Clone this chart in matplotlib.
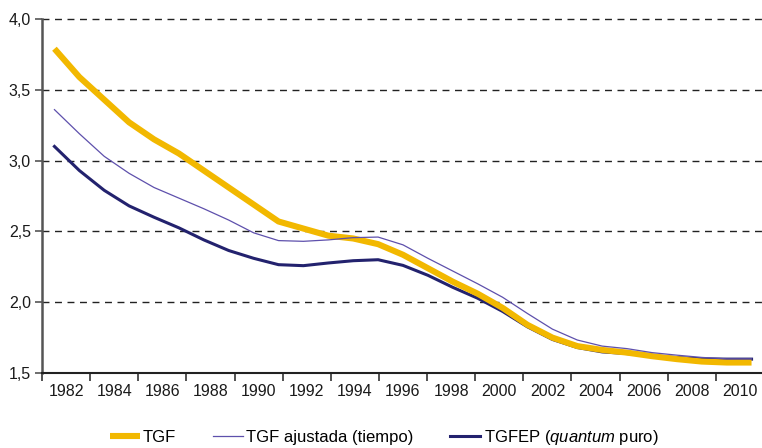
import matplotlib
matplotlib.use("Agg")
import matplotlib.pyplot as plt
import numpy as np

# series, one value per year 1982-2010
years = list(range(1982, 2011))
tgf = [3.79, 3.59, 3.43, 3.27, 3.15, 3.05, 2.93, 2.81, 2.69, 2.57,
       2.52, 2.47, 2.45, 2.41, 2.335, 2.24, 2.145, 2.06, 1.96, 1.84,
       1.75, 1.69, 1.663, 1.644, 1.619, 1.598, 1.581, 1.574, 1.574]
tgf_ajustada = [3.36, 3.19, 3.03, 2.91, 2.81, 2.735, 2.66, 2.58, 2.49, 2.435,
                2.43, 2.44, 2.456, 2.46, 2.405, 2.31, 2.22, 2.13, 2.035, 1.92,
                1.81, 1.733, 1.69, 1.672, 1.644, 1.626, 1.61, 1.60, 1.60]
tgfep = [3.10, 2.93, 2.79, 2.68, 2.60, 2.525, 2.44, 2.365, 2.31, 2.265,
         2.258, 2.277, 2.293, 2.30, 2.26, 2.19, 2.105, 2.028, 1.935, 1.826,
         1.737, 1.68, 1.649, 1.637, 1.621, 1.609, 1.60, 1.598, 1.598]
label_years = list(range(1982, 2011, 2))
y_ticks = [1.5, 2.0, 2.5, 3.0, 3.5, 4.0]

plt.rcParams['font.family'] = ['Liberation Sans', 'DejaVu Sans']
plt.rcParams['mathtext.fontset'] = 'custom'
plt.rcParams['mathtext.it'] = 'Liberation Sans:italic'
plt.rcParams['mathtext.rm'] = 'Liberation Sans'

fig = plt.figure(figsize=(7.62, 4.48), dpi=100)
# axis runs a bit past the right edge, like the cropped original
ax = fig.add_axes([42 / 762, 75 / 448, 722 / 762, 354 / 448])

ax.plot(years, tgf, color='#F2B800', lw=4.4, solid_capstyle='butt', label='TGF', zorder=3)
ax.plot(years, tgf_ajustada, color='#5E50AC', lw=0.9, label='TGF ajustada (tiempo)', zorder=4)
ax.plot(years, tgfep, color='#23226E', lw=2.2, label='TGFEP ($\\it{quantum}$ puro)', zorder=2)

ax.set_xlim(years[0] - 0.5, years[-1] + 0.5)
ax.set_ylim(1.5, 4.0)

# x axis: 30 slots, tick every 2 slots, labels in between
slot = (years[-1] - years[0] + 1) / 30
x0 = years[0] - 0.5
ax.set_xticks([x0 + k * slot for k in range(0, 31, 2)])
ax.set_xticklabels([])
ax.set_xticks([x0 + (k + 1) * slot for k in range(0, 30, 2)], minor=True)
ax.set_xticklabels([str(y) for y in label_years], minor=True)
ax.tick_params(axis='x', which='major', direction='out', length=6, width=1.2, color='#333333')
ax.tick_params(axis='x', which='minor', length=0, pad=8, labelsize=11.5, labelcolor='#1a1a1a')

ax.set_yticks(y_ticks)
ax.set_yticklabels([f"{v:.1f}".replace('.', ',') for v in y_ticks])
ax.tick_params(axis='y', direction='out', length=5, width=1.2, color='#555555',
               labelsize=11.5, labelcolor='#1a1a1a', pad=3)

for v in y_ticks[1:]:
    ax.axhline(v, color='#222222', lw=1.0, ls=(0, (5, 4)), zorder=1, clip_on=False)

for s in ['top', 'right']:
    ax.spines[s].set_visible(False)
ax.spines['left'].set_color('#555555')
ax.spines['left'].set_linewidth(1.8)
ax.spines['bottom'].set_color('#222222')
ax.spines['bottom'].set_linewidth(1.5)

fig.legend(loc='center', bbox_to_anchor=(384 / 762, 1 - 437 / 448), ncol=3, frameon=False,
           fontsize=12, handlelength=1.8, handletextpad=0.2, columnspacing=2.2)

fig.savefig("out.png", dpi=100)
